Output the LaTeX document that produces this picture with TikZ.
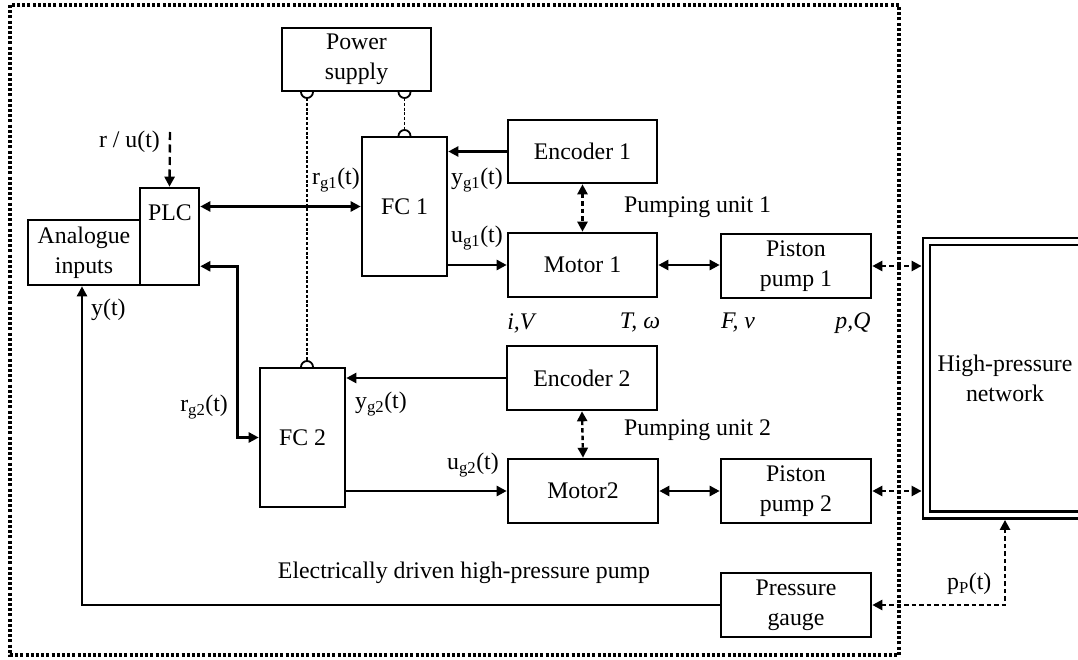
\documentclass[tikz,border=0pt]{standalone}
\usepackage{fontspec}
\setmainfont{Liberation Serif}
\usetikzlibrary{arrows.meta}
\tikzset{
  blk/.style={draw, line width=2.6pt, inner sep=2pt, align=center},
  lbl/.style={inner sep=0pt, align=center},
  tip/.tip={Triangle[length=10pt,width=10pt]},
  arr/.style={line width=2.4pt, -tip},
  biarr/.style={line width=2.4pt, tip-tip},
  dbiarr/.style={biarr, dash pattern=on 4.5pt off 3pt},
  darr/.style={arr, dash pattern=on 8pt off 4.5pt},
  pwr/.style={line width=1.6pt, dash pattern=on 3pt off 1.8pt},
  sock/.style={line width=1.8pt},
  frame/.style={line width=3.6pt, dash pattern=on 3pt off 2.2pt}
}
\begin{document}
\begin{tikzpicture}[x=1pt,y=-1pt,font=\fontsize{23.8}{30}\selectfont]
\clip (0,0) rectangle (1078,660);
\fill[white] (0,0) rectangle (1078,660);
% outer dotted frame
\draw[frame] (10,5) rectangle (899,655);
% boxes
\node[blk, minimum width=149, minimum height=63] (ps) at (356.5,59.5) {Power\\supply};
\node[blk, minimum width=59, minimum height=97] (plc) at (169.5,236.5) {};
\node[lbl] (plct) at (170,213) {PLC};
\node[blk, minimum width=112, minimum height=65] (ai) at (84,252.5) {Analogue\\inputs};
\node[blk, minimum width=85, minimum height=139] (fc1) at (404.5,206.5) {FC 1};
\node[blk, minimum width=149, minimum height=63] (enc1) at (582.5,151.5) {Encoder 1};
\node[blk, minimum width=149, minimum height=64] (m1) at (582.5,265) {Motor 1};
\node[blk, minimum width=150, minimum height=64] (p1) at (796,266) {Piston\\pump 1};
\node[blk, minimum width=85, minimum height=139] (fc2) at (302.5,437.5) {FC 2};
\node[blk, minimum width=150, minimum height=64] (enc2) at (582,378) {Encoder 2};
\node[blk, minimum width=150, minimum height=64] (m2) at (583,491) {Motor2};
\node[blk, minimum width=150, minimum height=64] (p2) at (796,491) {Piston\\pump 2};
\node[blk, minimum width=150, minimum height=64] (pg) at (796,605) {Pressure\\gauge};
\node[draw, line width=2.6pt, double, double distance=4.5pt, outer sep=4.9pt, align=center,
      minimum width=157, minimum height=273.5] (hpn) at (1005,378.25) {High-pressure\\network};
% labels
\node[lbl, anchor=east] (ru) at (160,142) {r / u(t)};
\node[lbl, anchor=west] (lrg1) at (312,180) {r\textsubscript{g1}(t)};
\node[lbl, anchor=west] (lyg1) at (451,180) {y\textsubscript{g1}(t)};
\node[lbl, anchor=west] (lug1) at (451,238) {u\textsubscript{g1}(t)};
\node[lbl, anchor=west] (ly) at (91,310) {y(t)};
\node[lbl, anchor=east] (lrg2) at (228,407) {r\textsubscript{g2}(t)};
\node[lbl, anchor=west] (lyg2) at (355,404) {y\textsubscript{g2}(t)};
\node[lbl, anchor=west] (lug2) at (447,465) {u\textsubscript{g2}(t)};
\node[lbl, anchor=west] (pu1) at (624,207) {Pumping unit 1};
\node[lbl, anchor=west] (pu2) at (624,430) {Pumping unit 2};
\node[lbl] (edp) at (464,573) {Electrically driven high-pressure pump};
\node[lbl, anchor=west] (lpp) at (947,584) {p\textsubscript{P}(t)};
\node[lbl] (liv) at (522,323) {\textit{i,V}};
\node[lbl] (ltw) at (640,323) {\textit{T, ω}};
\node[lbl] (lfv) at (738,323) {\textit{F, v}};
\node[lbl] (lpq) at (853,323) {\textit{p,Q}};
% power supply connections with sockets
\coordinate (s1) at (307,92);
\coordinate (s2) at (404.5,92);
\coordinate (t1) at (404.5,136);
\coordinate (t2) at (307,367);
\draw[sock] ([xshift=-6pt]s1) arc[start angle=180,end angle=360,radius=6pt];
\draw[sock] ([xshift=-6pt]s2) arc[start angle=180,end angle=360,radius=6pt];
\draw[sock] ([xshift=-6pt]t1) arc[start angle=180,end angle=0,radius=6pt];
\draw[sock] ([xshift=-6pt]t2) arc[start angle=180,end angle=0,radius=6pt];
\draw[pwr] ([yshift=-6pt]s2) -- ([yshift=6pt]t1);
\draw[pwr] ([yshift=-6pt]s1) -- ([yshift=6pt]t2);
% connectors
\coordinate (rutop) at (170,132);
\draw[darr] (rutop) -- (plc.north);
\draw[biarr] (plc.east |- fc1.west) -- (fc1.west);
\draw[biarr] ([yshift=20pt]plc.south east) -- ++(37,0) |- (fc2.west);
\draw[arr] (enc1.west) -- (enc1.west -| fc1.east);
\draw[arr] (fc1.east |- m1.west) -- (m1.west);
\draw[dbiarr] (enc1.south) -- (m1.north);
\draw[biarr] (m1.east) -- (m1.east -| p1.west);
\draw[dbiarr] (p1.east) -- (p1.east -| hpn.west);
\draw[arr] (enc2.west) -- (enc2.west -| fc2.east);
\draw[arr] (fc2.east |- m2.west) -- (m2.west);
\draw[dbiarr] (enc2.south) -- (m2.north);
\draw[biarr] (m2.east) -- (m2.east -| p2.west);
\draw[dbiarr] (p2.east) -- (p2.east -| hpn.west);
\draw[arr] (pg.west) -| ([xshift=-2pt]ai.south);
\draw[dbiarr] (pg.east) -| (hpn.south);
\end{tikzpicture}
\end{document}
